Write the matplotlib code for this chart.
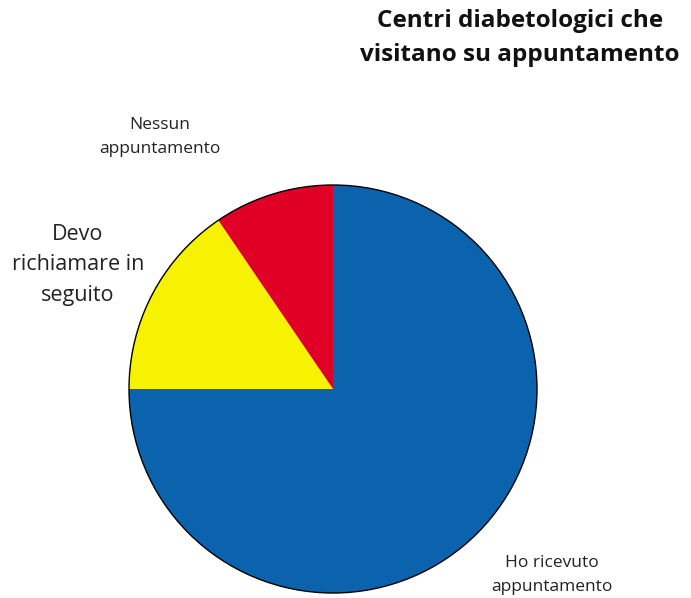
import matplotlib.pyplot as plt

plt.rcParams['font.family'] = ['Open Sans', 'DejaVu Sans']

# quote dei centri per modalità di prenotazione (%)
categorie = ['Ho ricevuto\nappuntamento', 'Devo\nrichiamare in\nseguito', 'Nessun\nappuntamento']
valori = [75.0, 15.5, 9.5]
colori = ['#0B63AD', '#F7F200', '#E00026']

W, H = 691, 598
fig = plt.figure(figsize=(W / 100, H / 100), dpi=100)
ax = fig.add_axes([0, 0, 1, 1])

cx, cy, r = 333, H - 389, 204
ax.pie(valori, colors=colori, startangle=90, counterclock=False,
       center=(cx, cy), radius=r, frame=True,
       wedgeprops=dict(linewidth=0))
ax.add_patch(plt.Circle((cx, cy), r, fill=False, edgecolor='black', linewidth=1.0))
ax.set_xlim(0, W)
ax.set_ylim(0, H)
ax.set_aspect('equal')
ax.axis('off')

# etichette
ax.text(552, H - 575, categorie[0], ha='center', va='center', fontsize=12.5,
        color='#222222', linespacing=1.7)
ax.text(78, H - 265, categorie[1], ha='center', va='center', fontsize=15.5,
        color='#222222', linespacing=1.62)
ax.text(160, H - 137, categorie[2], ha='center', va='center', fontsize=12.5,
        color='#222222', linespacing=1.7)

ax.text(520, H - 38, 'Centri diabetologici che\nvisitano su appuntamento',
        ha='center', va='center', fontsize=17.5, fontweight='bold',
        color='#111111', linespacing=1.52)

fig.savefig('out.png', dpi=100)
